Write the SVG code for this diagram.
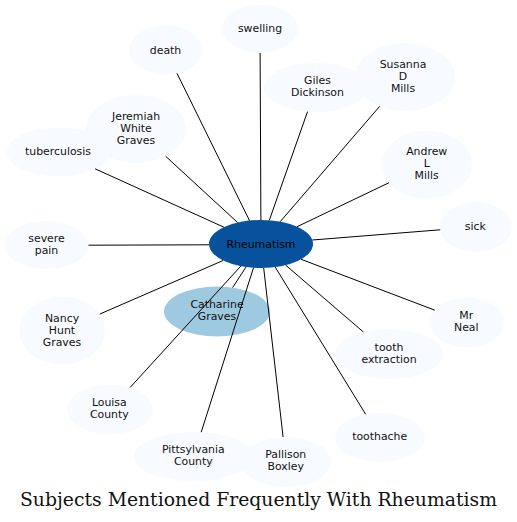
<svg xmlns="http://www.w3.org/2000/svg" width="517" height="522" viewBox="0 0 517 522">
<style>
.n{fill:#f7fbff}
.t{font-family:"DejaVu Sans",sans-serif;font-size:10.9px;fill:#111;text-anchor:middle}
.e line{stroke:#000;stroke-width:1}
.title{font-family:"DejaVu Serif",serif;font-size:18px;fill:#111;text-anchor:middle}
</style>
<rect width="517" height="522" fill="#fff"/>
<g id="nodes-bg">
<g id="swelling"><ellipse class="n" cx="260" cy="29" rx="38" ry="24"/><text class="t" x="260" y="32">swelling</text></g>
<g id="death"><ellipse class="n" cx="165.5" cy="50" rx="36.5" ry="24.5"/><text class="t" x="165.5" y="53.5">death</text></g>
<g id="tuberculosis"><ellipse class="n" cx="58" cy="152" rx="51" ry="24.5"/><text class="t" x="58" y="155">tuberculosis</text></g>
<g id="jeremiah"><ellipse class="n" cx="136" cy="129" rx="50" ry="34"/><text class="t" x="136" y="120">Jeremiah</text><text class="t" x="136" y="132">White</text><text class="t" x="136" y="143.5">Graves</text></g>
<g id="severe-pain"><ellipse class="n" cx="46.5" cy="245" rx="42" ry="24"/><text class="t" x="46.5" y="242">severe</text><text class="t" x="46.5" y="254">pain</text></g>
<g id="giles"><ellipse class="n" cx="316" cy="87.5" rx="52" ry="24.5"/><text class="t" x="317.5" y="84">Giles</text><text class="t" x="317.5" y="96">Dickinson</text></g>
<g id="susanna"><ellipse class="n" cx="405" cy="77" rx="50" ry="34"/><text class="t" x="403" y="68.3">Susanna</text><text class="t" x="403" y="80.3">D</text><text class="t" x="403" y="92.3">Mills</text></g>
<g id="andrew"><ellipse class="n" cx="427" cy="164.5" rx="45" ry="34"/><text class="t" x="426.7" y="155.3">Andrew</text><text class="t" x="426.7" y="167.3">L</text><text class="t" x="426.7" y="179.3">Mills</text></g>
<g id="sick"><ellipse class="n" cx="476" cy="227" rx="36" ry="25"/><text class="t" x="475.3" y="229.7">sick</text></g>
<g id="nancy"><ellipse class="n" cx="62" cy="330.5" rx="43" ry="34"/><text class="t" x="62" y="321.7">Nancy</text><text class="t" x="62" y="333.7">Hunt</text><text class="t" x="62" y="345.7">Graves</text></g>
<g id="catharine"><ellipse cx="217" cy="311.5" rx="53" ry="25" fill="#9ecae1"/><text class="t" x="217" y="308">Catharine</text><text class="t" x="217" y="320">Graves</text></g>
<g id="louisa"><ellipse class="n" cx="110" cy="409.5" rx="43" ry="25"/><text class="t" x="109.3" y="406.3">Louisa</text><text class="t" x="109.3" y="418.3">County</text></g>
<g id="pittsylvania"><ellipse class="n" cx="193.5" cy="456.5" rx="60" ry="24.5"/><text class="t" x="193.3" y="453.3">Pittsylvania</text><text class="t" x="193.3" y="465.3">County</text></g>
<g id="pallison"><ellipse class="n" cx="286" cy="462" rx="45" ry="25"/><text class="t" x="285.7" y="458.3">Pallison</text><text class="t" x="285.7" y="470.3">Boxley</text></g>
<g id="toothache"><ellipse class="n" cx="380" cy="437.5" rx="45" ry="24.5"/><text class="t" x="379.7" y="440">toothache</text></g>
<g id="tooth-extraction"><ellipse class="n" cx="389" cy="354" rx="54" ry="25"/><text class="t" x="389" y="351">tooth</text><text class="t" x="389" y="363">extraction</text></g>
<g id="mr-neal"><ellipse class="n" cx="467" cy="322.5" rx="37" ry="25"/><text class="t" x="466.3" y="319">Mr</text><text class="t" x="466.3" y="331">Neal</text></g>
</g>
<g id="rheumatism"><ellipse cx="261" cy="244" rx="52" ry="24" fill="#08519c"/><text class="t" x="261" y="248" style="fill:#000">Rheumatism</text></g>
<g id="connectors" class="e">
<line x1="260.9" y1="220" x2="260.1" y2="53"/>
<line x1="249.5" y1="220.6" x2="177" y2="73.3"/>
<line x1="237.7" y1="222.6" x2="165.7" y2="156.3"/>
<line x1="223.9" y1="227.2" x2="95.1" y2="168.8"/>
<line x1="209" y1="244.8" x2="88.5" y2="245.2"/>
<line x1="269.3" y1="220.3" x2="307.5" y2="111.7"/>
<line x1="280.2" y1="221.7" x2="379.7" y2="106.3"/>
<line x1="297.1" y1="226.7" x2="389" y2="182.7"/>
<line x1="312.3" y1="240" x2="440.2" y2="229.8"/>
<line x1="223.1" y1="260.5" x2="99.7" y2="314.1"/>
<line x1="246" y1="267" x2="232.6" y2="287.6"/>
<line x1="240.8" y1="266.1" x2="130.2" y2="387.4"/>
<line x1="253.5" y1="267.7" x2="201.2" y2="432.2"/>
<line x1="263.7" y1="268" x2="283.1" y2="437.1"/>
<line x1="275.2" y1="267.1" x2="365.7" y2="414.3"/>
<line x1="285.6" y1="265.1" x2="363.4" y2="332"/>
<line x1="301.1" y1="259.3" x2="434.8" y2="310.2"/>
</g>
<text class="title" x="258.5" y="506" textLength="477" lengthAdjust="spacingAndGlyphs">Subjects Mentioned Frequently With Rheumatism</text>
</svg>
